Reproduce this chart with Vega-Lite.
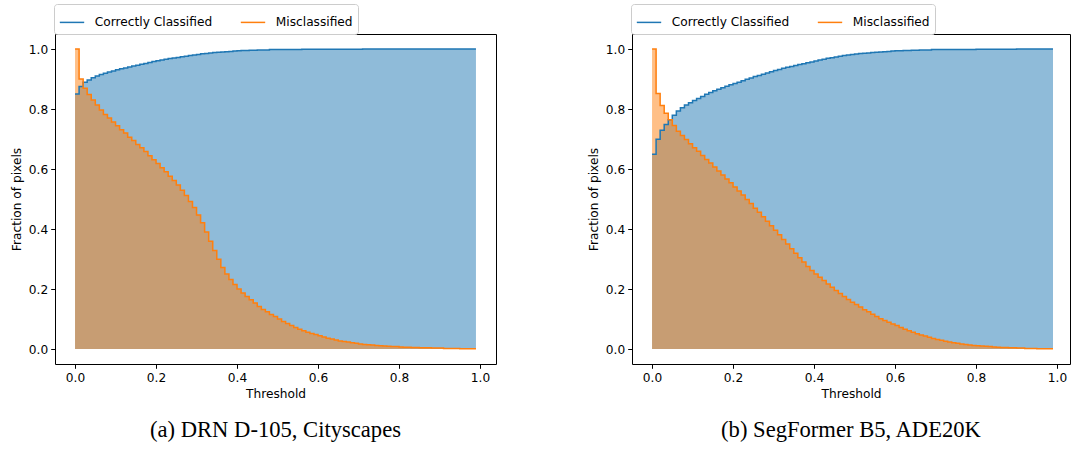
{
"$schema": "https://vega.github.io/schema/vega-lite/v6.json",
"padding": {"left": 9, "top": 3, "right": 0, "bottom": 0},
"spacing": 89,
"config": {
  "font": "DejaVu Sans",
  "view": {"stroke": "#000", "strokeWidth": 1},
  "axis": {"domain": false, "grid": false, "tickColor": "#000", "tickSize": 4.3, "tickWidth": 1, "labelPadding": 3, "labelFontSize": 12.2, "labelColor": "#000", "labelFont": "DejaVu Sans", "titleFont": "DejaVu Sans", "titleFontSize": 12.2, "titleFontWeight": "normal", "titleColor": "#000"},
  "legend": {"orient": "none", "legendX": -1, "legendY": -30, "direction": "horizontal", "title": null, "symbolType": "stroke", "symbolSize": 595, "symbolStrokeWidth": 1.5, "symbolOpacity": 1, "labelFontSize": 12.2, "labelFont": "DejaVu Sans", "labelColor": "#000", "labelOffset": 9.8, "columnPadding": 24, "padding": 5, "fillColor": "#fff", "strokeColor": "#cccccc", "cornerRadius": 3},
  "title": {"font": "Liberation Serif", "fontSize": 22.6, "fontWeight": "normal", "color": "#000"}
},
"datasets": {
"a": [
{"t":0,"Correctly Classified":0.85,"Misclassified":1},
{"t":0.01,"Correctly Classified":0.875,"Misclassified":0.9},
{"t":0.02,"Correctly Classified":0.889,"Misclassified":0.869},
{"t":0.03,"Correctly Classified":0.897,"Misclassified":0.848},
{"t":0.04,"Correctly Classified":0.904,"Misclassified":0.83},
{"t":0.05,"Correctly Classified":0.91,"Misclassified":0.813},
{"t":0.06,"Correctly Classified":0.915,"Misclassified":0.797},
{"t":0.07,"Correctly Classified":0.919,"Misclassified":0.782},
{"t":0.08,"Correctly Classified":0.923,"Misclassified":0.77},
{"t":0.09,"Correctly Classified":0.927,"Misclassified":0.757},
{"t":0.1,"Correctly Classified":0.931,"Misclassified":0.744},
{"t":0.11,"Correctly Classified":0.934,"Misclassified":0.731},
{"t":0.12,"Correctly Classified":0.937,"Misclassified":0.72},
{"t":0.13,"Correctly Classified":0.94,"Misclassified":0.706},
{"t":0.14,"Correctly Classified":0.943,"Misclassified":0.695},
{"t":0.15,"Correctly Classified":0.946,"Misclassified":0.682},
{"t":0.16,"Correctly Classified":0.949,"Misclassified":0.671},
{"t":0.17,"Correctly Classified":0.952,"Misclassified":0.658},
{"t":0.18,"Correctly Classified":0.955,"Misclassified":0.644},
{"t":0.19,"Correctly Classified":0.958,"Misclassified":0.631},
{"t":0.2,"Correctly Classified":0.961,"Misclassified":0.618},
{"t":0.21,"Correctly Classified":0.963,"Misclassified":0.604},
{"t":0.22,"Correctly Classified":0.966,"Misclassified":0.591},
{"t":0.23,"Correctly Classified":0.968,"Misclassified":0.576},
{"t":0.24,"Correctly Classified":0.97,"Misclassified":0.562},
{"t":0.25,"Correctly Classified":0.972,"Misclassified":0.547},
{"t":0.26,"Correctly Classified":0.974,"Misclassified":0.529},
{"t":0.27,"Correctly Classified":0.976,"Misclassified":0.512},
{"t":0.28,"Correctly Classified":0.978,"Misclassified":0.492},
{"t":0.29,"Correctly Classified":0.98,"Misclassified":0.472},
{"t":0.3,"Correctly Classified":0.982,"Misclassified":0.447},
{"t":0.31,"Correctly Classified":0.984,"Misclassified":0.421},
{"t":0.32,"Correctly Classified":0.985,"Misclassified":0.39},
{"t":0.33,"Correctly Classified":0.987,"Misclassified":0.359},
{"t":0.34,"Correctly Classified":0.988,"Misclassified":0.328},
{"t":0.35,"Correctly Classified":0.989,"Misclassified":0.299},
{"t":0.36,"Correctly Classified":0.99,"Misclassified":0.272},
{"t":0.37,"Correctly Classified":0.991,"Misclassified":0.25},
{"t":0.38,"Correctly Classified":0.992,"Misclassified":0.232},
{"t":0.39,"Correctly Classified":0.993,"Misclassified":0.215},
{"t":0.4,"Correctly Classified":0.994,"Misclassified":0.2},
{"t":0.41,"Correctly Classified":0.995,"Misclassified":0.187},
{"t":0.42,"Correctly Classified":0.995,"Misclassified":0.175},
{"t":0.43,"Correctly Classified":0.996,"Misclassified":0.164},
{"t":0.44,"Correctly Classified":0.996,"Misclassified":0.153},
{"t":0.45,"Correctly Classified":0.997,"Misclassified":0.142},
{"t":0.46,"Correctly Classified":0.997,"Misclassified":0.132},
{"t":0.47,"Correctly Classified":0.997,"Misclassified":0.124},
{"t":0.48,"Correctly Classified":0.998,"Misclassified":0.115},
{"t":0.49,"Correctly Classified":0.998,"Misclassified":0.108},
{"t":0.5,"Correctly Classified":0.998,"Misclassified":0.1},
{"t":0.51,"Correctly Classified":0.998,"Misclassified":0.092},
{"t":0.52,"Correctly Classified":0.998,"Misclassified":0.085},
{"t":0.53,"Correctly Classified":0.998,"Misclassified":0.078},
{"t":0.54,"Correctly Classified":0.998,"Misclassified":0.072},
{"t":0.55,"Correctly Classified":0.998,"Misclassified":0.066},
{"t":0.56,"Correctly Classified":0.999,"Misclassified":0.061},
{"t":0.57,"Correctly Classified":0.999,"Misclassified":0.056},
{"t":0.58,"Correctly Classified":0.999,"Misclassified":0.052},
{"t":0.59,"Correctly Classified":0.999,"Misclassified":0.048},
{"t":0.6,"Correctly Classified":0.999,"Misclassified":0.044},
{"t":0.61,"Correctly Classified":0.999,"Misclassified":0.04},
{"t":0.62,"Correctly Classified":0.999,"Misclassified":0.036},
{"t":0.63,"Correctly Classified":0.999,"Misclassified":0.033},
{"t":0.64,"Correctly Classified":0.999,"Misclassified":0.03},
{"t":0.65,"Correctly Classified":0.999,"Misclassified":0.027},
{"t":0.66,"Correctly Classified":0.999,"Misclassified":0.025},
{"t":0.67,"Correctly Classified":0.999,"Misclassified":0.023},
{"t":0.68,"Correctly Classified":0.999,"Misclassified":0.021},
{"t":0.69,"Correctly Classified":0.999,"Misclassified":0.019},
{"t":0.7,"Correctly Classified":0.999,"Misclassified":0.017},
{"t":0.71,"Correctly Classified":1,"Misclassified":0.015},
{"t":0.72,"Correctly Classified":1,"Misclassified":0.014},
{"t":0.73,"Correctly Classified":1,"Misclassified":0.013},
{"t":0.74,"Correctly Classified":1,"Misclassified":0.012},
{"t":0.75,"Correctly Classified":1,"Misclassified":0.011},
{"t":0.76,"Correctly Classified":1,"Misclassified":0.01},
{"t":0.77,"Correctly Classified":1,"Misclassified":0.009},
{"t":0.78,"Correctly Classified":1,"Misclassified":0.008},
{"t":0.79,"Correctly Classified":1,"Misclassified":0.008},
{"t":0.8,"Correctly Classified":1,"Misclassified":0.007},
{"t":0.81,"Correctly Classified":1,"Misclassified":0.006},
{"t":0.82,"Correctly Classified":1,"Misclassified":0.006},
{"t":0.83,"Correctly Classified":1,"Misclassified":0.005},
{"t":0.84,"Correctly Classified":1,"Misclassified":0.005},
{"t":0.85,"Correctly Classified":1,"Misclassified":0.004},
{"t":0.86,"Correctly Classified":1,"Misclassified":0.004},
{"t":0.87,"Correctly Classified":1,"Misclassified":0.004},
{"t":0.88,"Correctly Classified":1,"Misclassified":0.003},
{"t":0.89,"Correctly Classified":1,"Misclassified":0.003},
{"t":0.9,"Correctly Classified":1,"Misclassified":0.003},
{"t":0.91,"Correctly Classified":1,"Misclassified":0.002},
{"t":0.92,"Correctly Classified":1,"Misclassified":0.002},
{"t":0.93,"Correctly Classified":1,"Misclassified":0.002},
{"t":0.94,"Correctly Classified":1,"Misclassified":0.002},
{"t":0.95,"Correctly Classified":1,"Misclassified":0.001},
{"t":0.96,"Correctly Classified":1,"Misclassified":0.001},
{"t":0.97,"Correctly Classified":1,"Misclassified":0.001},
{"t":0.98,"Correctly Classified":1,"Misclassified":0.001},
{"t":0.99,"Correctly Classified":1,"Misclassified":0.001}
],
"b": [
{"t":0,"Correctly Classified":0.649,"Misclassified":1},
{"t":0.01,"Correctly Classified":0.699,"Misclassified":0.852},
{"t":0.02,"Correctly Classified":0.729,"Misclassified":0.812},
{"t":0.03,"Correctly Classified":0.748,"Misclassified":0.786},
{"t":0.04,"Correctly Classified":0.764,"Misclassified":0.764},
{"t":0.05,"Correctly Classified":0.779,"Misclassified":0.745},
{"t":0.06,"Correctly Classified":0.793,"Misclassified":0.726},
{"t":0.07,"Correctly Classified":0.804,"Misclassified":0.712},
{"t":0.08,"Correctly Classified":0.813,"Misclassified":0.698},
{"t":0.09,"Correctly Classified":0.821,"Misclassified":0.684},
{"t":0.1,"Correctly Classified":0.828,"Misclassified":0.671},
{"t":0.11,"Correctly Classified":0.835,"Misclassified":0.659},
{"t":0.12,"Correctly Classified":0.842,"Misclassified":0.645},
{"t":0.13,"Correctly Classified":0.849,"Misclassified":0.632},
{"t":0.14,"Correctly Classified":0.855,"Misclassified":0.62},
{"t":0.15,"Correctly Classified":0.861,"Misclassified":0.607},
{"t":0.16,"Correctly Classified":0.866,"Misclassified":0.593},
{"t":0.17,"Correctly Classified":0.871,"Misclassified":0.58},
{"t":0.18,"Correctly Classified":0.876,"Misclassified":0.567},
{"t":0.19,"Correctly Classified":0.881,"Misclassified":0.554},
{"t":0.2,"Correctly Classified":0.885,"Misclassified":0.54},
{"t":0.21,"Correctly Classified":0.889,"Misclassified":0.527},
{"t":0.22,"Correctly Classified":0.894,"Misclassified":0.513},
{"t":0.23,"Correctly Classified":0.899,"Misclassified":0.498},
{"t":0.24,"Correctly Classified":0.903,"Misclassified":0.485},
{"t":0.25,"Correctly Classified":0.908,"Misclassified":0.469},
{"t":0.26,"Correctly Classified":0.912,"Misclassified":0.456},
{"t":0.27,"Correctly Classified":0.916,"Misclassified":0.441},
{"t":0.28,"Correctly Classified":0.92,"Misclassified":0.426},
{"t":0.29,"Correctly Classified":0.924,"Misclassified":0.411},
{"t":0.3,"Correctly Classified":0.928,"Misclassified":0.396},
{"t":0.31,"Correctly Classified":0.932,"Misclassified":0.381},
{"t":0.32,"Correctly Classified":0.936,"Misclassified":0.365},
{"t":0.33,"Correctly Classified":0.939,"Misclassified":0.35},
{"t":0.34,"Correctly Classified":0.942,"Misclassified":0.334},
{"t":0.35,"Correctly Classified":0.945,"Misclassified":0.319},
{"t":0.36,"Correctly Classified":0.948,"Misclassified":0.304},
{"t":0.37,"Correctly Classified":0.951,"Misclassified":0.29},
{"t":0.38,"Correctly Classified":0.954,"Misclassified":0.275},
{"t":0.39,"Correctly Classified":0.957,"Misclassified":0.262},
{"t":0.4,"Correctly Classified":0.96,"Misclassified":0.25},
{"t":0.41,"Correctly Classified":0.963,"Misclassified":0.239},
{"t":0.42,"Correctly Classified":0.966,"Misclassified":0.228},
{"t":0.43,"Correctly Classified":0.969,"Misclassified":0.217},
{"t":0.44,"Correctly Classified":0.971,"Misclassified":0.206},
{"t":0.45,"Correctly Classified":0.973,"Misclassified":0.195},
{"t":0.46,"Correctly Classified":0.976,"Misclassified":0.185},
{"t":0.47,"Correctly Classified":0.978,"Misclassified":0.175},
{"t":0.48,"Correctly Classified":0.98,"Misclassified":0.165},
{"t":0.49,"Correctly Classified":0.982,"Misclassified":0.156},
{"t":0.5,"Correctly Classified":0.983,"Misclassified":0.148},
{"t":0.51,"Correctly Classified":0.985,"Misclassified":0.14},
{"t":0.52,"Correctly Classified":0.986,"Misclassified":0.131},
{"t":0.53,"Correctly Classified":0.987,"Misclassified":0.124},
{"t":0.54,"Correctly Classified":0.988,"Misclassified":0.116},
{"t":0.55,"Correctly Classified":0.989,"Misclassified":0.108},
{"t":0.56,"Correctly Classified":0.99,"Misclassified":0.101},
{"t":0.57,"Correctly Classified":0.991,"Misclassified":0.095},
{"t":0.58,"Correctly Classified":0.992,"Misclassified":0.089},
{"t":0.59,"Correctly Classified":0.993,"Misclassified":0.083},
{"t":0.6,"Correctly Classified":0.994,"Misclassified":0.078},
{"t":0.61,"Correctly Classified":0.994,"Misclassified":0.072},
{"t":0.62,"Correctly Classified":0.995,"Misclassified":0.066},
{"t":0.63,"Correctly Classified":0.995,"Misclassified":0.061},
{"t":0.64,"Correctly Classified":0.996,"Misclassified":0.056},
{"t":0.65,"Correctly Classified":0.996,"Misclassified":0.051},
{"t":0.66,"Correctly Classified":0.997,"Misclassified":0.047},
{"t":0.67,"Correctly Classified":0.997,"Misclassified":0.043},
{"t":0.68,"Correctly Classified":0.997,"Misclassified":0.039},
{"t":0.69,"Correctly Classified":0.998,"Misclassified":0.035},
{"t":0.7,"Correctly Classified":0.998,"Misclassified":0.032},
{"t":0.71,"Correctly Classified":0.998,"Misclassified":0.029},
{"t":0.72,"Correctly Classified":0.998,"Misclassified":0.026},
{"t":0.73,"Correctly Classified":0.998,"Misclassified":0.023},
{"t":0.74,"Correctly Classified":0.998,"Misclassified":0.021},
{"t":0.75,"Correctly Classified":0.998,"Misclassified":0.019},
{"t":0.76,"Correctly Classified":0.998,"Misclassified":0.017},
{"t":0.77,"Correctly Classified":0.998,"Misclassified":0.015},
{"t":0.78,"Correctly Classified":0.998,"Misclassified":0.013},
{"t":0.79,"Correctly Classified":0.998,"Misclassified":0.012},
{"t":0.8,"Correctly Classified":0.999,"Misclassified":0.011},
{"t":0.81,"Correctly Classified":0.999,"Misclassified":0.01},
{"t":0.82,"Correctly Classified":0.999,"Misclassified":0.009},
{"t":0.83,"Correctly Classified":0.999,"Misclassified":0.008},
{"t":0.84,"Correctly Classified":0.999,"Misclassified":0.007},
{"t":0.85,"Correctly Classified":0.999,"Misclassified":0.006},
{"t":0.86,"Correctly Classified":0.999,"Misclassified":0.005},
{"t":0.87,"Correctly Classified":0.999,"Misclassified":0.005},
{"t":0.88,"Correctly Classified":0.999,"Misclassified":0.004},
{"t":0.89,"Correctly Classified":0.999,"Misclassified":0.004},
{"t":0.9,"Correctly Classified":1,"Misclassified":0.003},
{"t":0.91,"Correctly Classified":1,"Misclassified":0.003},
{"t":0.92,"Correctly Classified":1,"Misclassified":0.002},
{"t":0.93,"Correctly Classified":1,"Misclassified":0.002},
{"t":0.94,"Correctly Classified":1,"Misclassified":0.002},
{"t":0.95,"Correctly Classified":1,"Misclassified":0.001},
{"t":0.96,"Correctly Classified":1,"Misclassified":0.001},
{"t":0.97,"Correctly Classified":1,"Misclassified":0.001},
{"t":0.98,"Correctly Classified":1,"Misclassified":0.001},
{"t":0.99,"Correctly Classified":1,"Misclassified":0.001}
]
},
"resolve": {"scale": {"color": "independent", "x": "independent", "y": "independent"}, "legend": {"color": "independent"}},
"hconcat": [
{
  "width": 441, "height": 330,
  "data": {"name": "a"},
  "transform": [{"fold": ["Correctly Classified", "Misclassified"], "as": ["series", "value"]}],
  "title": {"text": "(a) DRN D-105, Cityscapes", "orient": "bottom", "frame": "group", "anchor": "middle", "offset": 19},
  "encoding": {
    "x": {"field": "t", "type": "quantitative", "scale": {"domain": [-0.0495, 1.0395], "nice": false, "zero": false}, "axis": {"values": [0, 0.2, 0.4, 0.6, 0.8, 1.0], "format": ".1f", "title": "Threshold", "titlePadding": 4}},
    "y": {"field": "value", "type": "quantitative", "scale": {"domain": [-0.05, 1.05], "nice": false, "zero": false}, "axis": {"values": [0, 0.2, 0.4, 0.6, 0.8, 1.0], "format": ".1f", "title": "Fraction of pixels", "titlePadding": 5}},
    "color": {"field": "series", "type": "nominal", "scale": {"domain": ["Correctly Classified", "Misclassified"], "range": ["#1f77b4", "#ff7f0e"]}}
  },
  "layer": [
    {"mark": {"type": "area", "interpolate": "step-after", "fillOpacity": 0.5}, "encoding": {"y2": {"datum": 0}}},
    {"mark": {"type": "line", "interpolate": "step-after", "strokeWidth": 1.5}}
  ]
},
{
  "width": 438, "height": 330,
  "data": {"name": "b"},
  "transform": [{"fold": ["Correctly Classified", "Misclassified"], "as": ["series", "value"]}],
  "title": {"text": "(b) SegFormer B5, ADE20K", "orient": "bottom", "frame": "group", "anchor": "middle", "offset": 19},
  "encoding": {
    "x": {"field": "t", "type": "quantitative", "scale": {"domain": [-0.0495, 1.032], "nice": false, "zero": false}, "axis": {"values": [0, 0.2, 0.4, 0.6, 0.8, 1.0], "format": ".1f", "title": "Threshold", "titlePadding": 4}},
    "y": {"field": "value", "type": "quantitative", "scale": {"domain": [-0.05, 1.05], "nice": false, "zero": false}, "axis": {"values": [0, 0.2, 0.4, 0.6, 0.8, 1.0], "format": ".1f", "title": "Fraction of pixels", "titlePadding": 5}},
    "color": {"field": "series", "type": "nominal", "scale": {"domain": ["Correctly Classified", "Misclassified"], "range": ["#1f77b4", "#ff7f0e"]}}
  },
  "layer": [
    {"mark": {"type": "area", "interpolate": "step-after", "fillOpacity": 0.5}, "encoding": {"y2": {"datum": 0}}},
    {"mark": {"type": "line", "interpolate": "step-after", "strokeWidth": 1.5}}
  ]
}
]
}
